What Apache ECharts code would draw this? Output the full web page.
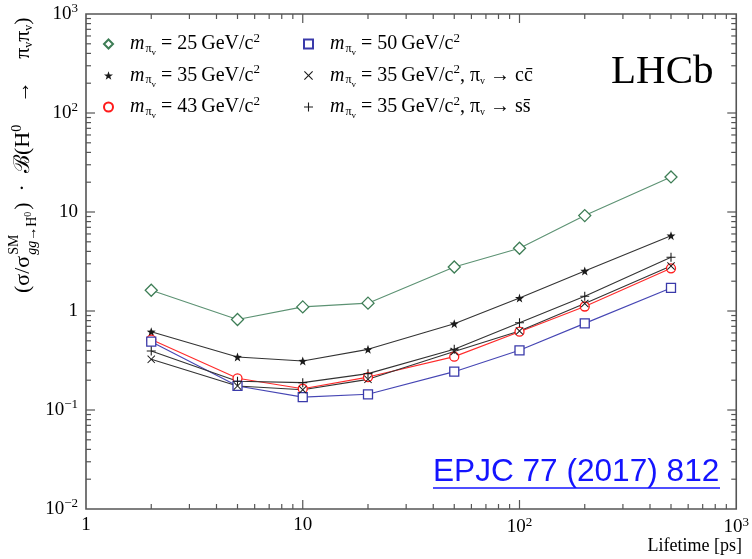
<!DOCTYPE html>
<html><head><meta charset="utf-8">
<script src="https://cdn.jsdelivr.net/npm/echarts@6/dist/echarts.min.js"></script>
<style>html,body{margin:0;padding:0;background:#fff}#c{width:752px;height:559px}</style>
</head><body><div id="c"></div>
<script>
const lifetime = [2, 5, 10, 20, 50, 100, 200, 500];
const m25 = [1.62, 0.82, 1.10, 1.20, 2.78, 4.3, 9.2, 22.6];
const m35 = [0.618, 0.343, 0.313, 0.41, 0.745, 1.35, 2.54, 5.77];
const m43 = [0.515, 0.209, 0.164, 0.215, 0.346, 0.618, 1.11, 2.7];
const m50 = [0.49, 0.175, 0.135, 0.144, 0.244, 0.401, 0.75, 1.71];
const m35cc = [0.325, 0.175, 0.16, 0.204, 0.39, 0.628, 1.19, 2.85];
const m35ss = [0.394, 0.195, 0.189, 0.233, 0.41, 0.76, 1.41, 3.49];
const xMajor = [10, 100];
const yMajor = [0.1, 1, 10, 100];
const xMinor = [2,3,4,5,6,7,8,9,20,30,40,50,60,70,80,90,200,300,400,500,600,700,800,900];
const yMinor = [0.02,0.03,0.04,0.05,0.06,0.07,0.08,0.09,0.2,0.3,0.4,0.5,0.6,0.7,0.8,0.9,2,3,4,5,6,7,8,9,20,30,40,50,60,70,80,90,200,300,400,500,600,700,800,900];

const SERIF = '"Liberation Serif", "Times New Roman", serif';
const AX = '#555555';
const STAR = 'path://M0,-10 L2.35,-3.24 9.51,-3.09 3.8,1.24 5.88,8.09 0,4 -5.88,8.09 -3.8,1.24 -9.51,-3.09 -2.35,-3.24Z';
const CROSS = 'path://M-10,-8.3 L-8.3,-10 L0,-1.7 L8.3,-10 L10,-8.3 L1.7,0 L10,8.3 L8.3,10 L0,1.7 L-8.3,10 L-10,8.3 L-1.7,0Z';
const PLUS = 'path://M-1.2,-10 H1.2 V-1.2 H10 V1.2 H1.2 V10 H-1.2 V1.2 H-10 V-1.2 H-1.2Z';

const L = Math.log10;
function pairs(v){ return lifetime.map((x,i)=>[x, v[i]]); }
function supLabel(v){
  const e = Math.round(L(v));
  if (e === 0) return '1';
  if (e === 1) return '10';
  return '10{s|' + (e < 0 ? '\u2212' + (-e) : e) + '}';
}
function labelRich(){ return { s: { fontSize: 13, fontFamily: SERIF, padding: [0,0,10,0], color: '#000' } }; }

const xAxis = [
  { type: 'log', logBase: 10, min: 1, max: 1000, position: 'bottom', axisLine: { show: false, onZero: false }, axisTick: { show: false }, splitLine: { show: false },
    axisLabel: { margin: 7, formatter: supLabel, fontFamily: SERIF, fontSize: 19, color: '#000', rich: labelRich() } }
];
const yAxis = [
  { type: 'log', logBase: 10, min: 0.01, max: 1000, position: 'left', axisLine: { show: false, onZero: false }, axisTick: { show: false }, splitLine: { show: false },
    axisLabel: { margin: 8, formatter: supLabel, fontFamily: SERIF, fontSize: 19, color: '#000', rich: labelRich() } }
];

function ser(name, data, lineColor, symbol, size, fill, border){
  return { name, type: 'line', data: pairs(data), xAxisIndex: 0, yAxisIndex: 0,
    symbol, symbolSize: size, showSymbol: true, z: 3,
    lineStyle: { color: lineColor, width: 1.1 },
    itemStyle: { color: fill, borderColor: border, borderWidth: border ? 1.3 : 0 } };
}
const series = [
  ser('25', m25, '#5c9273', 'diamond', 12, '#ffffff', '#3d7d55'),
  ser('35', m35, '#333333', STAR, 9, '#1a1a1a', null),
  ser('43', m43, '#ff2a2a', 'circle', 9, '#ffffff', '#ff1a1a'),
  ser('50', m50, '#4646b4', 'rect', 9, '#ffffff', '#3a3aaa'),
  ser('cc', m35cc, '#333333', CROSS, 8, '#1a1a1a', null),
  ser('ss', m35ss, '#333333', PLUS, 9, '#1a1a1a', null)
];

const legendLabels = {
  '25': '{m|m}{p|\u03c0}{v|v}{t| = 25\u2009GeV/c}{s|2}',
  '35': '{m|m}{p|\u03c0}{v|v}{t| = 35\u2009GeV/c}{s|2}',
  '43': '{m|m}{p|\u03c0}{v|v}{t| = 43\u2009GeV/c}{s|2}',
  '50': '{m|m}{p|\u03c0}{v|v}{t| = 50\u2009GeV/c}{s|2}',
  'cc': '{m|m}{p|\u03c0}{v|v}{t| = 35\u2009GeV/c}{s|2}{t|, \u03c0}{q|v}{t| \u2192 cc\u0304}',
  'ss': '{m|m}{p|\u03c0}{v|v}{t| = 35\u2009GeV/c}{s|2}{t|, \u03c0}{q|v}{t| \u2192 ss\u0304}'
};
function legRich(){ return {
  m: { fontFamily: SERIF, fontSize: 20, fontStyle: 'italic', color: '#000' },
  p: { fontFamily: SERIF, fontSize: 12, padding: [9,0,0,1], color: '#000' },
  v: { fontFamily: SERIF, fontSize: 9, padding: [18,0,0,0], color: '#000' },
  q: { fontFamily: SERIF, fontSize: 10, padding: [11,0,0,0], color: '#000' },
  t: { fontFamily: SERIF, fontSize: 20, color: '#000' },
  s: { fontFamily: SERIF, fontSize: 13, padding: [0,0,11,0], color: '#000' }
}; }
function legend(names, leftPos){
  return { show: true, orient: 'vertical', left: leftPos, top: 27, itemWidth: 9, itemHeight: 9, itemGap: 6,
    data: names.map(n => ({ name: n, icon: series.find(s => s.name === n).symbol })),
    formatter: n => legendLabels[n],
    textStyle: { fontFamily: SERIF, fontSize: 20, color: '#000', padding: [0,0,0,12], rich: legRich() },
    selectedMode: false };
}

// y-axis title pieces
const cx = document.createElement('canvas').getContext('2d');
function tw(t, size, it){ cx.font = (it ? 'italic ' : '') + size + 'px ' + SERIF; return cx.measureText(t).width; }
const F = 22;
const w1 = tw('(\u03c3/\u03c3', F);
const wB = Math.max(tw('SM', 14), tw('gg', 14, true) + tw('\u2192H', 14) + tw('0', 10));
const titleGroup = {
  type: 'group', x: 23, y: 293, rotation: Math.PI / 2,
  children: [
    { type: 'text', x: 0, y: 0, style: { text: '(\u03c3/\u03c3', font: F + 'px ' + SERIF, fill: '#000', verticalAlign: 'middle' } },
    { type: 'text', x: w1 + 1, y: -9, style: { text: 'SM', font: '14px ' + SERIF, fill: '#000', verticalAlign: 'middle' } },
    { type: 'text', x: w1 + 1, y: 9, style: { text: '{i|gg}{n|\u2192H}{z|0}', fill: '#000', verticalAlign: 'middle',
        rich: { i: { fontFamily: SERIF, fontSize: 14, fontStyle: 'italic' }, n: { fontFamily: SERIF, fontSize: 14 }, z: { fontFamily: SERIF, fontSize: 10, padding: [0,0,8,0] } } } },
    { type: 'text', x: w1 + wB + 3, y: 0, style: { text: '{t|)\u2002\u00b7\u2002\u212c(H}{z|0}{t|\u2003\u2192\u2003\u03c0}{v|v}{t|\u03c0}{v|v}{t|)}', fill: '#000', verticalAlign: 'middle',
        rich: { t: { fontFamily: SERIF, fontSize: F }, z: { fontFamily: SERIF, fontSize: 14, padding: [0,0,11,0] }, v: { fontFamily: SERIF, fontSize: 12, padding: [12,0,0,0] } } } }
  ]
};

const baseGraphic = [
  titleGroup,
  { type: 'text', x: 742, y: 546, style: { text: 'Lifetime [ps]', font: '18px ' + SERIF, fill: '#000', align: 'right', verticalAlign: 'middle' } },
  { type: 'text', x: 611, y: 72, style: { text: 'LHCb', font: '41px ' + SERIF, fill: '#000', verticalAlign: 'middle' } },
  { type: 'text', x: 433, y: 472, style: { text: 'EPJC 77 (2017) 812', font: '31.6px "Liberation Sans", Arial, sans-serif', fill: '#1414ff', verticalAlign: 'middle' } },
  { type: 'line', shape: { x1: 433, y1: 488, x2: 720, y2: 488 }, style: { stroke: '#1414ff', lineWidth: 1.5 } }
];

const option = {
  animation: false,
  grid: { left: 86, right: 10, top: 14, bottom: 50, show: true, borderColor: AX, borderWidth: 1.6, backgroundColor: 'transparent' },
  xAxis, yAxis, series,
  legend: [ legend(['25','35','43'], 98), legend(['50','cc','ss'], 298) ],
  graphic: baseGraphic
};
const chart = echarts.init(document.getElementById('c'));
chart.setOption(option);

// axis ticks on all four sides, placed through the axes' own scales
(function () {
  const px = v => chart.convertToPixel({ xAxisIndex: 0 }, v);
  const py = v => chart.convertToPixel({ yAxisIndex: 0 }, v);
  const gLeft = px(1), gRight = px(1000), gTop = py(1000), gBottom = py(0.01);
  const ticks = [];
  function tl(x1, y1, x2, y2){ ticks.push({ type: 'line', silent: true, z: 2, shape: { x1, y1, x2, y2 }, style: { stroke: AX, lineWidth: 1.2 } }); }
  xMajor.forEach(v => { const x = px(v); tl(x, gBottom, x, gBottom - 9); tl(x, gTop, x, gTop + 9); });
  xMinor.forEach(v => { const x = px(v); tl(x, gBottom, x, gBottom - 5); tl(x, gTop, x, gTop + 5); });
  yMajor.forEach(v => { const y = py(v); tl(gLeft, y, gLeft + 9, y); tl(gRight, y, gRight - 9, y); });
  yMinor.forEach(v => { const y = py(v); tl(gLeft, y, gLeft + 5, y); tl(gRight, y, gRight - 5, y); });
  chart.setOption({ graphic: baseGraphic.concat(ticks) });
})();
</script></body></html>
